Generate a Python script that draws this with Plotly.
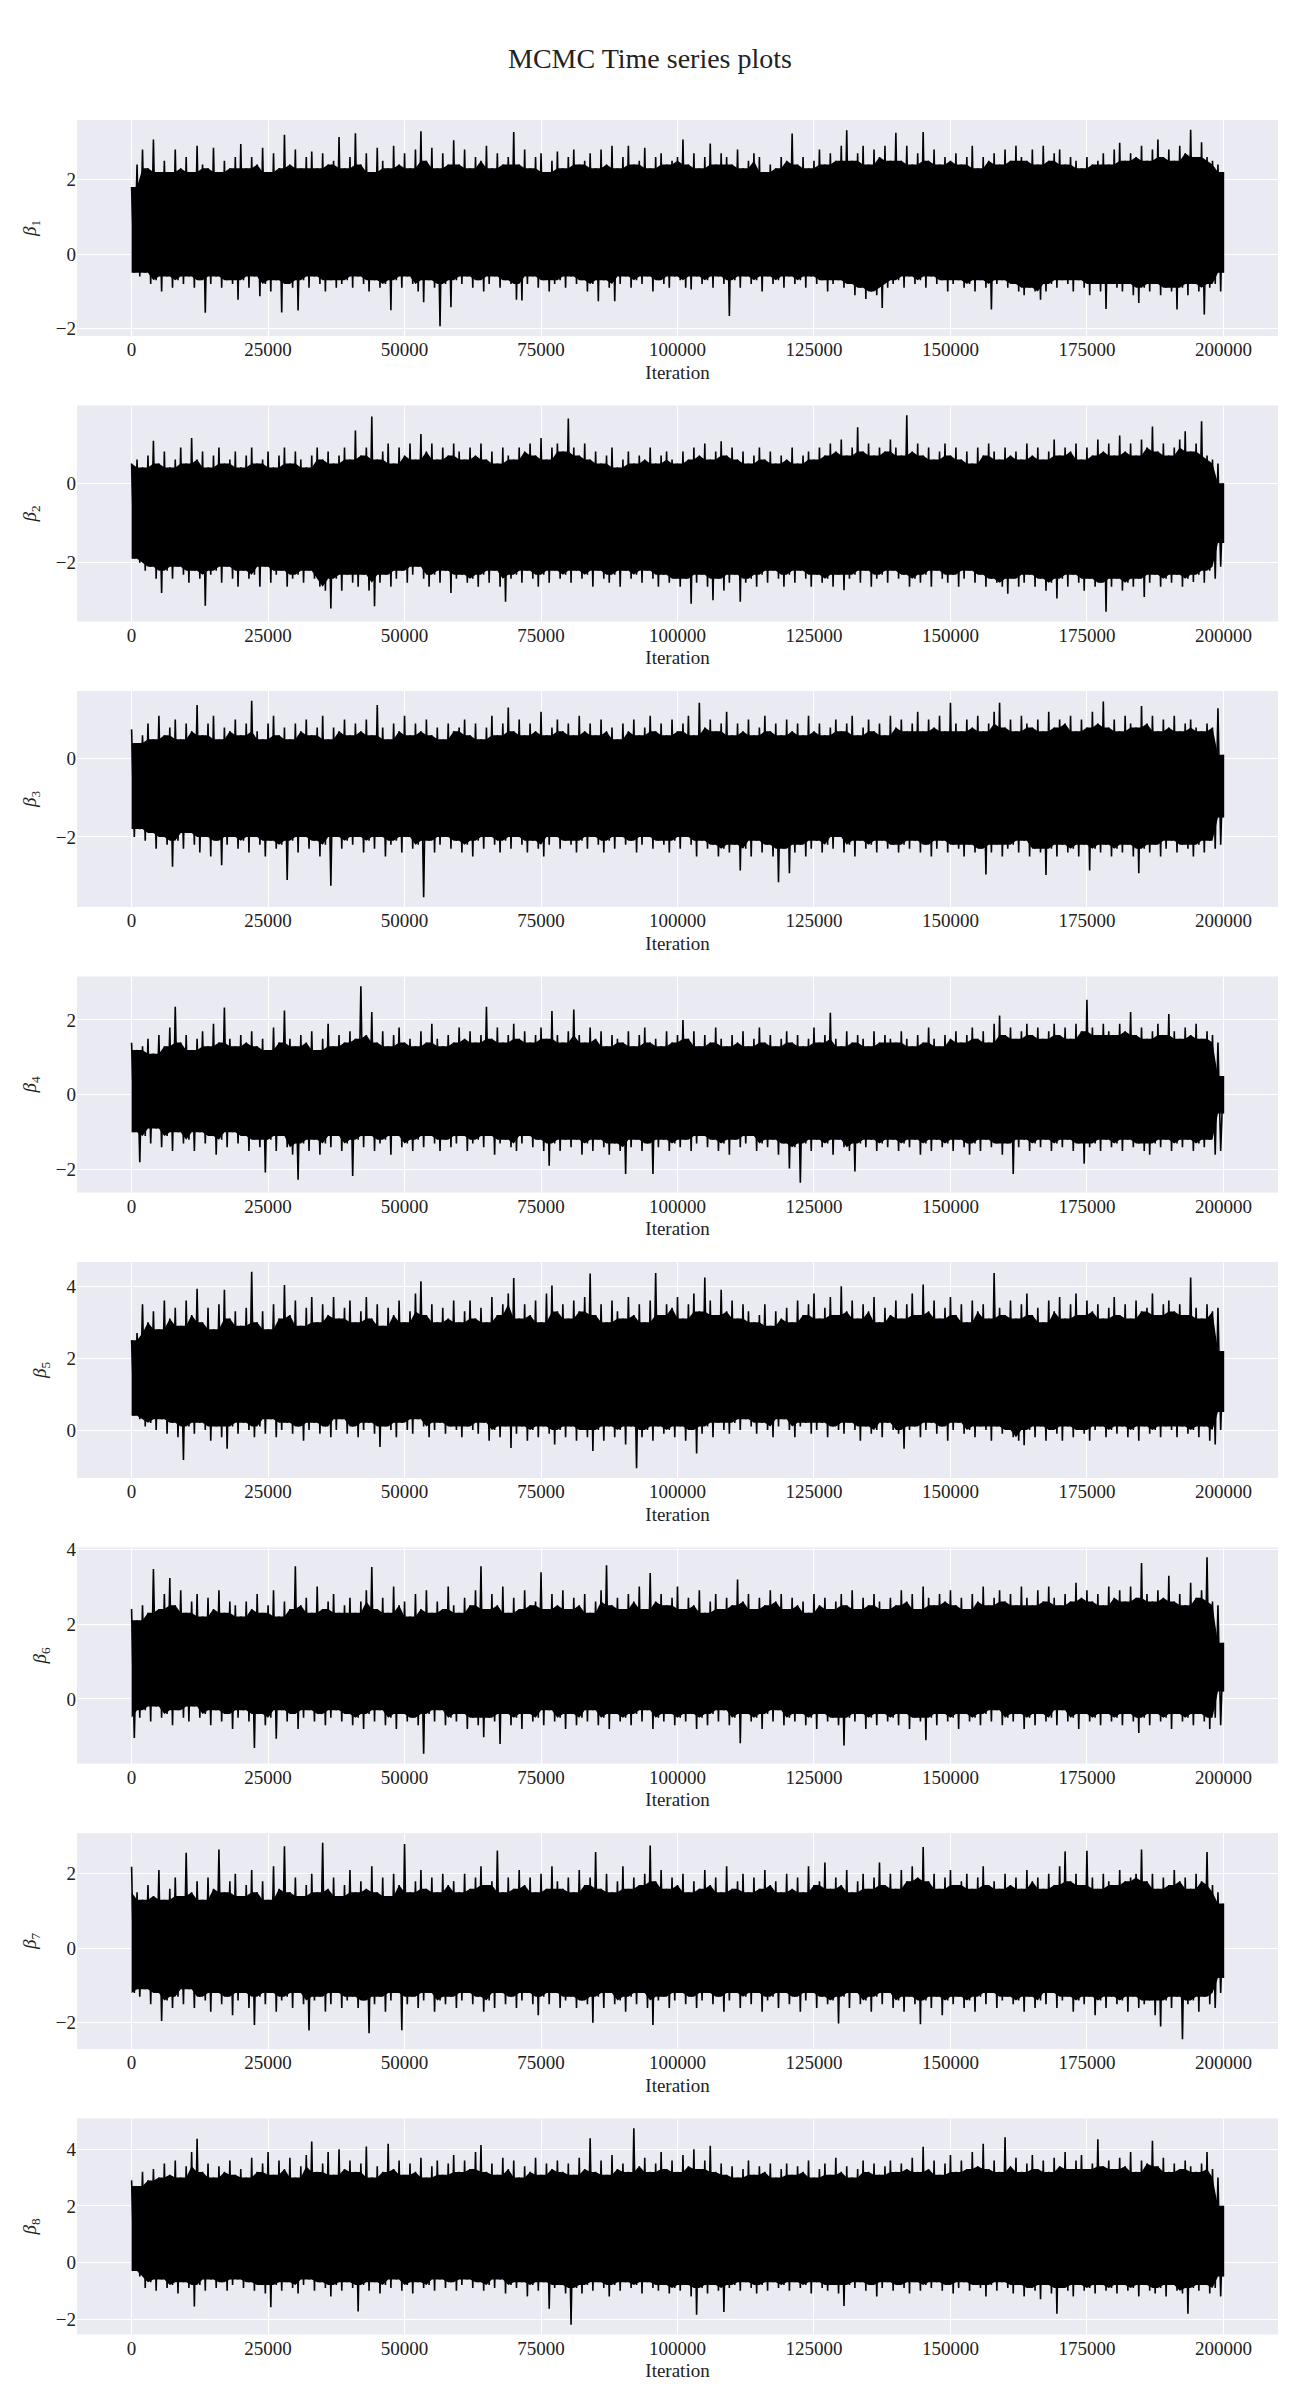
import numpy as np
import plotly.graph_objects as go

# Trace envelopes (column max / column min) read every 1000 iterations, 0..200000
iterations_max = 200000

beta1_upper = [1.8, 2.4, 2.8, 2.3, 3.07, 2.2, 2.5, 2.2, 2.8, 2.3, 2.6, 2.2, 2.9, 2.4, 2.3, 2.85, 2.2, 2.5, 2.3, 2.6,
               2.95, 2.3, 2.6, 2.4, 2.85, 2.2, 2.7, 2.3, 3.2, 2.4, 2.8, 2.3, 2.6, 2.75, 2.3, 2.7, 2.4, 2.5, 3.14, 2.3,
               2.6, 3.24, 2.4, 2.7, 2.2, 2.85, 2.5, 2.3, 2.9, 2.4, 2.7, 2.3, 2.8, 3.29, 2.5, 2.85, 2.3, 2.7, 2.4, 3.05,
               2.4, 2.8, 2.3, 2.6, 2.5, 2.9, 2.3, 2.7, 2.4, 2.6, 3.27, 2.4, 2.8, 2.3, 2.6, 2.7, 2.2, 2.5, 2.75, 2.3,
               2.6, 2.8, 2.4, 2.5, 2.7, 2.3, 2.8, 2.4, 2.9, 2.3, 2.6, 2.9, 2.4, 2.5, 2.85, 2.3, 2.6, 2.7, 2.4, 2.5,
               2.6, 3.07, 2.4, 2.7, 2.3, 2.6, 2.96, 2.4, 2.7, 2.6, 2.4, 2.8, 2.3, 2.5, 2.7, 2.6, 2.2, 2.4, 2.3, 2.6,
               2.5, 3.23, 2.4, 2.6, 2.3, 2.5, 2.8, 2.4, 2.7, 2.5, 2.9, 3.32, 2.5, 2.7, 2.9, 2.4, 2.8, 2.6, 2.9, 2.5,
               3.25, 2.5, 2.9, 2.4, 2.7, 3.27, 2.5, 2.8, 2.4, 2.6, 2.5, 2.7, 2.4, 2.6, 2.9, 2.3, 2.6, 2.5, 2.7, 2.4,
               2.8, 2.5, 2.9, 2.6, 2.5, 2.8, 2.4, 2.9, 2.5, 2.7, 2.8, 2.4, 2.6, 2.5, 2.3, 2.6, 2.4, 2.5, 2.7, 2.4,
               2.8, 2.98, 2.5, 2.7, 2.6, 2.9, 2.5, 2.8, 3.07, 2.6, 2.8, 2.5, 2.9, 2.7, 3.33, 2.6, 3.0, 2.6, 2.5, 2.4,
               2.2]
beta1_lower = [-0.5, -0.6, -0.5, -0.8, -0.7, -1.0, -0.6, -0.9, -0.7, -0.8, -0.6, -0.9, -0.7, -1.57, -0.8, -0.6, -0.9, -0.7, -0.8, -1.22,
               -0.7, -0.9, -0.6, -1.13, -0.8, -1.0, -0.7, -1.56, -0.8, -0.9, -1.51, -0.7, -0.9, -0.6, -0.8, -1.0, -0.7, -0.9, -0.8, -0.7,
               -0.9, -0.6, -0.8, -1.0, -0.7, -0.9, -0.8, -1.5, -0.7, -0.9, -0.6, -0.8, -1.0, -1.29, -0.7, -0.9, -1.93, -0.8, -1.42, -0.7,
               -0.8, -0.6, -0.9, -0.7, -1.0, -0.8, -0.6, -0.9, -0.7, -0.8, -1.22, -1.24, -0.8, -0.6, -0.9, -0.7, -1.0, -0.8, -0.7, -0.9,
               -0.6, -0.8, -0.7, -1.0, -0.8, -1.26, -0.7, -0.9, -1.26, -0.8, -0.6, -0.9, -0.7, -0.8, -0.6, -1.0, -0.7, -0.8, -0.9, -0.6,
               -0.7, -0.9, -0.95, -0.6, -0.8, -0.7, -0.9, -0.6, -0.8, -1.66, -0.7, -0.9, -0.6, -0.8, -0.7, -1.0, -0.6, -0.8, -0.7, -0.9,
               -0.6, -0.8, -0.7, -0.9, -0.6, -0.8, -0.7, -1.0, -0.8, -0.7, -0.9, -0.8, -1.1, -0.9, -1.2, -1.0, -1.1, -1.44, -0.9, -0.8,
               -0.7, -0.9, -0.6, -0.8, -0.7, -0.9, -0.6, -0.8, -0.7, -1.0, -0.8, -0.7, -0.9, -0.8, -1.0, -0.7, -0.9, -1.48, -0.8, -0.7,
               -0.9, -0.8, -1.0, -1.1, -0.9, -1.0, -1.22, -1.0, -0.8, -0.9, -0.7, -0.8, -1.0, -0.7, -0.9, -1.1, -0.8, -1.0, -1.47, -0.8,
               -0.9, -1.0, -0.8, -1.1, -1.31, -0.9, -1.0, -0.8, -1.1, -0.9, -1.0, -1.48, -0.9, -1.1, -0.8, -1.0, -1.62, -0.9, -0.8, -1.0,
               -0.5]

beta2_upper = [0.5, 0.6, 0.4, 0.7, 1.07, 0.5, 0.8, 0.4, 0.6, 0.9, 0.5, 1.14, 0.6, 0.8, 0.4, 0.7, 0.9, 0.5, 0.6, 0.8,
               0.4, 0.7, 0.9, 0.5, 0.6, 0.8, 0.4, 0.7, 0.9, 0.5, 0.8, 0.6, 0.4, 0.7, 0.9, 0.6, 0.8, 0.5, 0.7, 0.9,
               0.6, 1.33, 0.7, 0.9, 1.68, 0.6, 0.8, 1.0, 0.5, 0.9, 0.7, 1.0, 0.6, 1.24, 0.8, 1.0, 0.6, 0.9, 0.7, 1.0,
               0.8, 0.6, 0.9, 0.7, 1.0, 0.6, 0.8, 0.5, 0.9, 0.7, 0.6, 0.9, 0.8, 1.0, 0.7, 1.14, 0.6, 0.9, 1.0, 0.8,
               1.63, 0.9, 0.7, 1.0, 0.6, 0.8, 0.5, 0.7, 0.9, 0.4, 0.6, 0.8, 0.5, 0.7, 0.6, 0.9, 0.5, 0.7, 0.8, 0.6,
               0.5, 0.8, 0.6, 0.9, 0.7, 1.0, 0.6, 0.8, 1.06, 0.7, 0.9, 0.6, 0.8, 0.5, 0.7, 0.9, 0.6, 0.8, 0.5, 0.7,
               0.6, 0.9, 0.5, 0.7, 0.8, 0.6, 0.9, 0.7, 1.0, 0.8, 1.1, 0.7, 0.9, 1.41, 0.8, 1.0, 0.7, 0.9, 0.8, 1.1,
               0.9, 0.7, 1.71, 0.8, 1.0, 0.7, 0.9, 0.6, 0.8, 1.0, 0.7, 0.9, 0.6, 0.8, 0.5, 0.9, 0.7, 1.0, 0.8, 0.6,
               0.9, 0.7, 0.8, 0.6, 1.0, 0.7, 0.9, 0.6, 0.8, 1.1, 0.7, 0.9, 0.8, 1.0, 0.6, 0.9, 0.7, 1.1, 0.8, 1.0,
               0.7, 1.2, 0.8, 1.0, 0.7, 1.1, 0.9, 1.43, 0.8, 1.0, 0.7, 0.9, 1.1, 1.31, 0.8, 1.0, 1.56, 0.7, 0.6, 0.5,
               0.0]
beta2_lower = [-1.9, -2.0, -2.2, -2.1, -2.4, -2.76, -2.2, -2.4, -2.1, -2.3, -2.5, -2.2, -2.4, -3.08, -2.3, -2.2, -2.5, -2.1, -2.4, -2.6,
               -2.2, -2.4, -2.3, -2.6, -2.1, -2.5, -2.3, -2.2, -2.6, -2.4, -2.3, -2.5, -2.2, -2.4, -2.6, -2.7, -3.15, -2.4, -2.7, -2.3,
               -2.5, -2.6, -2.3, -2.7, -3.09, -2.5, -2.3, -2.6, -2.4, -2.2, -2.5, -2.3, -2.1, -2.4, -2.6, -2.3, -2.5, -2.2, -2.76, -2.4,
               -2.3, -2.5, -2.4, -2.6, -2.3, -2.5, -2.2, -2.6, -2.98, -2.4, -2.3, -2.5, -2.2, -2.4, -2.6, -2.3, -2.5, -2.2, -2.4, -2.3,
               -2.5, -2.2, -2.4, -2.3, -2.6, -2.2, -2.4, -2.5, -2.3, -2.6, -2.2, -2.4, -2.3, -2.5, -2.2, -2.4, -2.6, -2.3, -2.5, -2.4,
               -2.6, -2.4, -3.03, -2.5, -2.3, -2.6, -2.94, -2.4, -2.7, -2.5, -2.3, -2.98, -2.5, -2.4, -2.6, -2.3, -2.5, -2.2, -2.4, -2.6,
               -2.3, -2.5, -2.2, -2.4, -2.6, -2.3, -2.5, -2.4, -2.6, -2.3, -2.69, -2.4, -2.3, -2.5, -2.2, -2.6, -2.4, -2.3, -2.5, -2.2,
               -2.4, -2.3, -2.6, -2.4, -2.5, -2.3, -2.6, -2.2, -2.4, -2.5, -2.3, -2.6, -2.4, -2.2, -2.5, -2.3, -2.6, -2.4, -2.5, -2.6,
               -2.78, -2.4, -2.6, -2.5, -2.3, -2.6, -2.4, -2.7, -2.5, -2.9, -2.4, -2.6, -2.3, -2.5, -2.7, -2.4, -2.6, -2.5, -3.23, -2.6,
               -2.4, -2.7, -2.5, -2.6, -2.4, -2.86, -2.5, -2.3, -2.6, -2.4, -2.5, -2.3, -2.6, -2.4, -2.48, -2.3, -2.5, -2.2, -2.4, -2.1,
               -1.5]

beta3_upper = [0.75, 0.4, 0.6, 0.9, 0.5, 1.1, 0.6, 0.8, 1.0, 0.5, 0.9, 0.7, 1.37, 0.6, 0.9, 1.1, 0.5, 0.8, 0.7, 1.0,
               0.6, 0.9, 1.48, 0.7, 0.5, 0.9, 1.1, 0.6, 0.8, 0.5, 0.9, 0.7, 1.0, 0.6, 0.8, 1.1, 0.5, 0.8, 0.7, 1.0,
               0.6, 0.9, 0.7, 1.0, 0.6, 1.37, 0.8, 0.5, 0.9, 0.7, 1.1, 0.6, 0.9, 0.7, 1.0, 0.6, 0.8, 0.5, 0.9, 0.7,
               0.8, 1.0, 0.6, 0.9, 0.5, 0.8, 1.1, 0.6, 0.9, 1.31, 0.7, 1.0, 0.6, 0.9, 0.7, 1.2, 0.6, 0.8, 1.0, 0.7,
               0.9, 0.6, 1.1, 0.7, 0.9, 0.6, 1.0, 0.7, 0.8, 0.5, 0.9, 0.7, 1.0, 0.6, 0.8, 1.1, 0.7, 0.9, 0.6, 1.0,
               0.7, 0.9, 1.1, 0.6, 1.43, 0.8, 1.0, 0.7, 0.9, 1.2, 0.6, 0.9, 0.7, 1.0, 0.6, 0.8, 1.1, 0.7, 0.9, 0.6,
               1.0, 0.7, 0.9, 0.6, 1.1, 0.7, 0.9, 0.6, 0.8, 1.0, 0.7, 0.9, 1.1, 0.6, 0.8, 1.0, 0.7, 0.9, 0.6, 1.1,
               0.8, 1.0, 0.7, 0.9, 1.2, 0.7, 1.0, 0.8, 1.1, 0.7, 1.43, 0.9, 0.7, 1.0, 0.8, 1.1, 0.7, 0.9, 1.2, 1.43,
               0.8, 1.0, 0.7, 1.1, 0.9, 0.8, 1.0, 0.7, 1.2, 0.8, 1.0, 0.9, 1.1, 0.7, 1.0, 0.8, 1.2, 0.9, 1.46, 0.8,
               1.0, 0.7, 1.1, 0.9, 0.8, 1.35, 0.9, 1.1, 0.7, 1.0, 0.8, 1.1, 0.7, 0.9, 1.0, 0.8, 0.7, 0.9, 0.8, 1.29,
               0.1]
beta3_lower = [-2.0, -1.8, -2.1, -1.9, -2.3, -2.0, -2.2, -2.76, -2.1, -2.3, -1.9, -2.2, -2.4, -2.0, -2.5, -2.1, -2.72, -2.2, -2.0, -2.3,
               -2.1, -2.4, -2.0, -2.2, -2.5, -2.1, -2.3, -2.2, -3.1, -2.1, -2.4, -2.0, -2.3, -2.1, -2.5, -2.2, -3.25, -2.0, -2.3, -2.1,
               -2.2, -2.0, -2.4, -2.1, -2.3, -2.0, -2.5, -2.2, -2.1, -2.4, -2.0, -2.3, -2.2, -3.54, -2.1, -2.4, -2.2, -2.0, -2.3, -2.1,
               -2.4, -2.2, -2.5, -2.1, -2.3, -2.0, -2.2, -2.4, -2.1, -2.3, -2.0, -2.2, -2.4, -2.1, -2.3, -2.5, -2.2, -2.0, -2.3, -2.1,
               -2.2, -2.4, -2.1, -2.3, -2.0, -2.2, -2.4, -2.1, -2.3, -2.0, -2.2, -2.1, -2.4, -2.2, -2.0, -2.3, -2.1, -2.2, -2.4, -2.1,
               -2.3, -2.0, -2.2, -2.5, -2.1, -2.3, -2.2, -2.5, -2.3, -2.4, -2.2, -2.86, -2.3, -2.5, -2.1, -2.4, -2.2, -2.5, -3.16, -2.3,
               -2.93, -2.4, -2.2, -2.5, -2.3, -2.1, -2.4, -2.2, -2.3, -2.0, -2.4, -2.2, -2.5, -2.1, -2.3, -2.2, -2.4, -2.1, -2.3, -2.2,
               -2.4, -2.2, -2.3, -2.1, -2.4, -2.2, -2.5, -2.3, -2.1, -2.4, -2.2, -2.3, -2.5, -2.2, -2.4, -2.3, -2.96, -2.4, -2.2, -2.5,
               -2.3, -2.2, -2.4, -2.1, -2.5, -2.3, -2.4, -2.97, -2.3, -2.5, -2.2, -2.4, -2.3, -2.5, -2.2, -2.86, -2.3, -2.4, -2.2, -2.5,
               -2.3, -2.4, -2.2, -2.5, -2.93, -2.3, -2.4, -2.2, -2.5, -2.3, -2.1, -2.4, -2.2, -2.3, -2.5, -2.2, -2.4, -2.1, -2.3, -2.2,
               -1.5]

beta4_upper = [1.39, 1.2, 1.3, 1.5, 1.1, 1.6, 1.3, 1.8, 2.35, 1.4, 1.6, 1.2, 1.5, 1.7, 1.3, 1.9, 1.4, 2.33, 1.5, 1.3,
               1.6, 1.4, 1.7, 1.3, 1.5, 1.2, 1.8, 1.4, 2.25, 1.5, 1.3, 1.6, 1.4, 1.7, 1.2, 1.5, 1.9, 1.3, 1.6, 1.4,
               1.7, 1.5, 2.9, 1.6, 2.21, 1.4, 1.7, 1.3, 1.6, 1.8, 1.4, 1.5, 1.3, 1.7, 1.4, 1.9, 1.5, 1.3, 1.6, 1.4,
               1.8, 1.5, 1.7, 1.4, 1.6, 2.35, 1.5, 1.8, 1.4, 1.6, 1.9, 1.5, 1.7, 1.4, 1.6, 1.8, 1.5, 2.24, 1.6, 1.4,
               1.7, 2.28, 1.6, 1.4, 1.8, 1.5, 1.7, 1.3, 1.6, 1.5, 1.4, 1.7, 1.3, 1.6, 1.8, 1.4, 1.5, 1.3, 1.7, 1.4,
               1.6, 2.0, 1.5, 1.7, 1.3, 1.6, 1.4, 1.8, 1.5, 1.3, 1.6, 1.4, 1.7, 1.3, 1.5, 1.8, 1.4, 1.6, 1.3, 1.5,
               1.7, 1.4, 1.6, 1.3, 1.5, 1.8, 1.4, 1.6, 2.19, 1.5, 1.3, 1.7, 1.4, 1.6, 1.5, 1.3, 1.7, 1.4, 1.6, 1.5,
               1.4, 1.7, 1.5, 1.3, 1.6, 1.4, 1.8, 1.5, 1.3, 1.6, 1.5, 1.7, 1.4, 1.6, 1.8, 1.5, 1.7, 1.4, 1.9, 2.12,
               1.6, 1.8, 1.5, 1.7, 1.9, 1.6, 1.8, 1.5, 1.7, 1.9, 1.6, 1.8, 1.5, 1.9, 1.7, 2.54, 1.8, 1.6, 1.9, 1.7,
               1.6, 1.9, 1.7, 2.21, 1.6, 1.8, 1.5, 1.7, 1.9, 1.6, 2.16, 1.7, 1.5, 1.8, 1.6, 1.9, 1.5, 1.7, 1.6, 1.4,
               0.5]
beta4_lower = [-1.0, -1.8, -1.1, -1.3, -0.9, -1.4, -1.1, -1.5, -1.0, -1.3, -1.2, -1.5, -1.0, -1.3, -1.1, -1.6, -1.2, -1.4, -1.0, -1.3,
               -1.1, -1.5, -1.2, -1.4, -2.08, -1.2, -1.5, -1.1, -1.4, -1.6, -2.27, -1.3, -1.5, -1.2, -1.6, -1.3, -1.4, -1.1, -1.5, -1.3,
               -2.17, -1.2, -1.4, -1.1, -1.5, -1.3, -1.2, -1.6, -1.1, -1.4, -1.3, -1.5, -1.2, -1.4, -1.1, -1.3, -1.5, -1.2, -1.4, -1.3,
               -1.1, -1.5, -1.3, -1.2, -1.4, -1.1, -1.6, -1.3, -1.2, -1.4, -1.5, -1.3, -1.1, -1.4, -1.2, -1.5, -1.9, -1.3, -1.5, -1.2,
               -1.4, -1.2, -1.6, -1.3, -1.5, -1.2, -1.4, -1.6, -1.3, -1.5, -2.12, -1.4, -1.2, -1.5, -1.3, -2.12, -1.4, -1.2, -1.5, -1.3,
               -1.4, -1.2, -1.5, -1.3, -1.1, -1.4, -1.2, -1.5, -1.3, -1.6, -1.2, -1.4, -1.3, -1.1, -1.5, -1.3, -1.4, -1.2, -1.6, -1.3,
               -1.97, -1.4, -2.35, -1.3, -1.5, -1.2, -1.4, -1.3, -1.6, -1.2, -1.4, -1.5, -2.05, -1.3, -1.4, -1.2, -1.5, -1.3, -1.4, -1.2,
               -1.5, -1.3, -1.4, -1.2, -1.6, -1.3, -1.5, -1.2, -1.4, -1.3, -1.5, -1.2, -1.4, -1.6, -1.3, -1.5, -1.2, -1.4, -1.3, -1.6,
               -1.3, -2.12, -1.4, -1.2, -1.5, -1.3, -1.4, -1.2, -1.5, -1.3, -1.4, -1.2, -1.5, -1.3, -1.84, -1.4, -1.3, -1.5, -1.2, -1.4,
               -1.3, -1.5, -1.2, -1.4, -1.3, -1.5, -1.6, -1.3, -1.4, -1.2, -1.5, -1.3, -1.4, -1.2, -1.5, -1.3, -1.4, -1.2, -1.6, -1.5,
               -0.5]

beta5_upper = [2.5, 2.7, 3.5, 3.0, 3.3, 2.8, 3.6, 3.1, 3.4, 2.9, 3.6, 3.2, 3.93, 3.0, 3.4, 2.8, 3.5, 3.9, 3.1, 3.3,
               2.9, 3.4, 4.4, 3.0, 3.3, 2.8, 3.5, 3.1, 4.03, 3.2, 3.6, 2.9, 3.4, 3.7, 3.0, 3.5, 3.2, 3.7, 3.1, 3.4,
               3.6, 3.0, 3.3, 3.7, 3.1, 3.5, 2.9, 3.4, 3.2, 3.6, 3.0, 3.3, 3.8, 4.14, 3.2, 3.5, 3.0, 3.4, 3.1, 3.6,
               3.0, 3.3, 3.6, 3.1, 3.4, 3.0, 3.7, 3.2, 3.5, 3.8, 4.23, 3.1, 3.5, 3.2, 3.6, 3.0, 3.8, 4.02, 3.3, 3.5,
               3.1, 3.6, 3.3, 3.7, 4.35, 3.2, 3.5, 3.0, 3.6, 3.3, 3.1, 3.7, 3.2, 3.5, 3.0, 3.6, 4.37, 3.2, 3.5, 3.4,
               3.7, 3.1, 3.5, 3.8, 3.3, 4.24, 3.6, 3.2, 3.9, 3.3, 3.6, 3.1, 3.5, 3.3, 3.0, 3.2, 3.5, 2.9, 3.3, 3.1,
               3.4, 3.0, 3.6, 3.2, 3.5, 3.8, 3.1, 3.4, 3.7, 3.2, 4.0, 3.3, 3.6, 3.1, 3.5, 3.3, 3.7, 3.0, 3.4, 3.2,
               3.6, 3.1, 3.5, 3.8, 3.2, 4.05, 3.3, 3.6, 3.1, 3.4, 3.7, 3.2, 3.5, 3.0, 3.6, 3.3, 3.5, 3.1, 4.37, 3.4,
               3.2, 3.6, 3.1, 3.5, 3.8, 3.2, 3.4, 3.0, 3.6, 3.3, 3.7, 3.1, 3.5, 3.8, 3.2, 3.6, 3.3, 3.5, 3.1, 3.4,
               3.7, 3.2, 3.5, 3.1, 3.6, 3.3, 3.4, 3.8, 3.2, 3.5, 3.6, 3.3, 3.5, 3.2, 4.24, 3.4, 3.1, 3.5, 3.3, 3.4,
               2.2]
beta5_lower = [0.4, 0.3, 0.1, 0.2, 0.0, 0.3, -0.1, 0.2, -0.2, -0.83, 0.1, -0.1, 0.2, 0.0, -0.3, 0.1, -0.2, -0.52, 0.1, -0.1,
               0.2, 0.0, -0.2, 0.1, -0.1, 0.3, -0.2, 0.0, 0.2, -0.1, 0.1, -0.3, 0.0, 0.2, -0.1, 0.1, -0.2, 0.0, 0.3, -0.1,
               0.1, -0.2, 0.0, 0.2, -0.1, -0.47, 0.1, 0.0, -0.2, 0.2, 0.0, -0.1, 0.3, 0.1, -0.2, 0.0, 0.2, -0.1, 0.1, 0.0,
               -0.2, 0.1, 0.0, -0.1, 0.2, -0.3, 0.0, -0.2, 0.1, -0.5, -0.1, 0.1, -0.3, 0.0, -0.2, 0.1, -0.1, -0.4, 0.0, -0.2,
               0.1, -0.3, 0.0, -0.2, -0.58, 0.0, -0.3, 0.1, -0.2, 0.0, -0.4, 0.1, -1.06, -0.2, 0.0, -0.3, 0.1, -0.1, 0.0, -0.2,
               0.1, -0.3, 0.0, -0.65, -0.1, 0.1, -0.2, 0.2, 0.0, -0.1, 0.2, 0.0, 0.3, 0.1, -0.1, 0.2, 0.0, -0.2, 0.1, 0.3,
               0.0, -0.2, 0.1, 0.2, -0.1, 0.0, 0.2, -0.2, 0.1, 0.0, -0.1, 0.2, 0.0, -0.3, 0.1, -0.1, 0.0, -0.2, 0.2, 0.0,
               -0.1, -0.52, 0.0, 0.1, -0.2, 0.0, 0.2, -0.1, 0.1, -0.3, 0.0, 0.2, -0.1, 0.0, -0.2, 0.1, 0.0, -0.3, 0.1, -0.1,
               0.0, -0.2, -0.3, -0.42, 0.0, -0.2, 0.1, -0.3, 0.0, -0.1, -0.3, 0.1, -0.2, 0.0, -0.1, -0.3, 0.0, 0.1, -0.2, 0.0,
               -0.1, 0.1, -0.2, 0.0, -0.3, 0.1, -0.1, 0.0, -0.2, 0.1, 0.0, -0.2, 0.1, -0.1, 0.0, -0.2, 0.1, -0.3, -0.4, 0.0,
               0.5]

beta6_upper = [2.4, 2.1, 2.5, 2.3, 3.47, 2.4, 2.8, 3.23, 2.5, 2.9, 2.3, 2.6, 2.8, 2.2, 2.7, 2.4, 2.9, 2.3, 2.6, 2.5,
               2.2, 2.6, 2.4, 2.8, 2.3, 2.5, 2.9, 2.2, 2.6, 2.4, 3.54, 2.5, 2.7, 2.3, 3.0, 2.4, 2.6, 2.8, 2.3, 2.5,
               2.7, 2.3, 2.6, 2.9, 3.52, 2.4, 2.7, 2.3, 3.0, 2.5, 2.6, 2.2, 2.8, 2.4, 2.9, 2.3, 2.6, 2.4, 3.0, 2.5,
               2.3, 2.7, 2.5, 2.9, 3.54, 2.4, 2.8, 2.5, 3.0, 2.3, 2.7, 2.4, 2.9, 2.5, 2.6, 3.38, 2.4, 2.8, 2.5, 2.9,
               2.4, 2.7, 2.5, 2.8, 2.3, 2.6, 2.9, 3.57, 2.5, 2.7, 2.4, 2.8, 2.6, 3.0, 2.4, 3.36, 2.6, 2.8, 2.5, 2.7,
               3.0, 2.4, 2.7, 2.5, 2.9, 2.3, 2.6, 2.8, 2.4, 2.7, 2.5, 3.19, 2.6, 2.8, 2.4, 2.7, 2.5, 2.9, 2.6, 2.8,
               2.4, 2.7, 2.5, 2.6, 2.3, 2.8, 2.5, 2.7, 2.4, 2.6, 2.8, 2.5, 2.9, 2.4, 2.7, 2.5, 2.8, 2.6, 2.4, 2.7,
               2.5, 2.9, 2.6, 2.8, 2.4, 3.0, 2.7, 2.5, 2.8, 2.6, 2.9, 2.5, 2.7, 2.4, 2.8, 2.6, 3.0, 2.5, 2.7, 2.9,
               2.6, 2.8, 2.5, 3.0, 2.7, 2.5, 2.9, 2.6, 3.0, 2.7, 2.5, 2.8, 2.6, 3.1, 2.7, 2.9, 2.6, 2.8, 2.5, 3.0,
               2.7, 2.9, 2.6, 3.0, 2.7, 3.63, 2.8, 2.6, 2.9, 2.7, 3.29, 2.6, 2.8, 2.5, 3.1, 2.7, 2.9, 3.78, 2.6, 2.5,
               1.5]
beta6_lower = [-1.04, -0.5, -0.3, -0.6, -0.2, -0.5, -0.4, -0.7, -0.3, -0.5, -0.6, -0.2, -0.5, -0.4, -0.7, -0.3, -0.6, -0.4, -0.8, -0.5,
               -0.3, -0.6, -1.31, -0.4, -0.7, -0.5, -1.06, -0.3, -0.6, -0.4, -0.8, -0.5, -0.3, -0.6, -0.4, -0.7, -0.5, -0.3, -0.6, -0.4,
               -0.7, -0.5, -0.8, -0.4, -0.6, -0.3, -0.7, -0.5, -0.8, -0.4, -0.6, -0.5, -0.7, -1.46, -0.4, -0.6, -0.3, -0.7, -0.5, -0.6,
               -0.4, -0.8, -0.5, -0.7, -1.02, -0.5, -0.6, -1.2, -0.4, -0.7, -0.5, -0.8, -0.4, -0.6, -0.5, -0.7, -0.3, -0.6, -0.5, -0.8,
               -0.4, -0.7, -0.5, -0.6, -0.3, -0.7, -0.5, -0.8, -0.4, -0.6, -0.5, -0.7, -0.4, -0.6, -0.3, -0.8, -0.5, -0.6, -0.4, -0.7,
               -0.5, -0.6, -0.4, -0.8, -0.5, -0.7, -0.4, -0.6, -0.3, -0.7, -0.5, -1.18, -0.4, -0.6, -0.5, -0.8, -0.4, -0.6, -0.3, -0.7,
               -0.5, -0.6, -0.4, -0.7, -0.5, -0.8, -0.4, -0.6, -0.5, -0.7, -1.24, -0.5, -0.6, -0.4, -0.8, -0.5, -0.7, -0.4, -0.6, -0.5,
               -0.7, -0.4, -0.8, -0.5, -0.6, -1.1, -0.5, -0.7, -0.4, -0.6, -0.5, -0.8, -0.4, -0.6, -0.5, -0.7, -0.4, -0.6, -0.3, -0.7,
               -0.5, -0.6, -0.4, -0.8, -0.5, -0.7, -0.4, -0.6, -0.5, -0.7, -0.3, -0.6, -0.5, -0.8, -0.4, -0.6, -0.5, -0.7, -0.4, -0.6,
               -0.5, -0.7, -0.4, -0.6, -0.91, -0.5, -0.7, -0.4, -0.6, -0.5, -0.8, -0.4, -0.6, -0.5, -0.7, -0.4, -0.6, -0.8, -0.5, -0.7,
               0.2]

beta7_upper = [2.19, 1.5, 1.3, 1.7, 1.4, 2.1, 1.3, 1.6, 1.9, 1.4, 2.56, 1.5, 1.8, 1.3, 1.9, 1.6, 2.65, 1.5, 1.8, 2.0,
               1.4, 1.7, 2.1, 1.5, 1.8, 1.3, 2.2, 1.6, 2.74, 1.5, 1.9, 1.4, 1.7, 2.0, 1.5, 2.83, 1.6, 1.9, 1.4, 1.7,
               2.1, 1.5, 1.8, 1.6, 2.2, 1.5, 1.9, 1.4, 2.0, 1.7, 2.8, 1.5, 1.8, 2.1, 1.6, 1.9, 1.5, 2.0, 1.7, 1.8,
               1.5, 2.0, 1.6, 1.9, 2.2, 1.7, 1.8, 2.62, 1.5, 1.9, 1.6, 2.1, 1.7, 1.9, 1.5, 2.0, 1.6, 2.2, 1.8, 1.6,
               1.9, 1.5, 2.1, 1.7, 1.9, 2.58, 1.6, 2.0, 1.5, 1.8, 2.2, 1.6, 1.9, 1.7, 2.0, 2.76, 1.8, 2.1, 1.6, 1.9,
               1.7, 2.0, 1.5, 1.8, 1.6, 2.1, 1.7, 1.9, 1.5, 2.2, 1.6, 1.8, 2.0, 1.5, 1.9, 1.6, 2.1, 1.7, 1.8, 1.5,
               2.0, 1.6, 1.9, 1.5, 2.2, 1.7, 1.8, 2.3, 1.6, 1.9, 1.7, 2.1, 1.5, 1.8, 2.0, 1.6, 1.9, 2.3, 1.7, 2.0,
               1.6, 2.1, 1.8, 2.2, 1.9, 2.72, 1.8, 2.0, 1.6, 1.9, 2.1, 1.7, 1.8, 2.0, 1.6, 1.9, 2.2, 1.7, 1.8, 1.6,
               2.0, 1.7, 1.9, 1.6, 2.1, 1.8, 1.9, 1.6, 2.0, 1.7, 2.2, 2.6, 1.8, 2.0, 1.7, 2.62, 1.9, 1.6, 2.0, 1.8,
               1.7, 2.1, 1.8, 1.9, 2.0, 2.65, 1.8, 2.0, 1.6, 1.9, 1.7, 2.1, 1.8, 1.9, 1.6, 2.0, 1.8, 2.58, 1.7, 1.5,
               1.2]
beta7_lower = [-1.2, -1.3, -1.1, -1.5, -1.2, -1.95, -1.4, -1.6, -1.3, -1.5, -1.1, -1.6, -1.3, -1.4, -1.7, -1.2, -1.5, -1.3, -1.8, -1.4,
               -1.2, -1.6, -2.06, -1.3, -1.5, -1.2, -1.7, -1.4, -1.3, -1.6, -1.2, -1.5, -2.21, -1.4, -1.3, -1.7, -1.5, -1.2, -1.6, -1.4,
               -1.3, -1.6, -1.4, -2.28, -1.5, -1.3, -1.7, -1.4, -1.2, -2.2, -1.5, -1.3, -1.6, -1.4, -1.2, -1.7, -1.4, -1.5, -1.3, -1.6,
               -1.4, -1.2, -1.5, -1.3, -1.7, -1.4, -1.6, -1.2, -1.5, -1.3, -1.6, -1.4, -1.2, -1.5, -1.8, -1.3, -1.5, -1.2, -1.6, -1.4,
               -1.3, -1.6, -1.4, -1.5, -2.0, -1.3, -1.6, -1.2, -1.5, -1.4, -1.7, -1.3, -1.5, -1.2, -1.6, -2.06, -1.4, -1.3, -1.6, -1.4,
               -1.2, -1.5, -1.3, -1.6, -1.4, -1.2, -1.5, -1.3, -1.7, -1.4, -1.2, -1.6, -1.3, -1.5, -1.2, -1.7, -1.4, -1.3, -1.6, -1.2,
               -1.5, -1.3, -1.7, -1.4, -1.2, -1.6, -1.3, -1.5, -1.4, -2.02, -1.3, -1.6, -1.2, -1.5, -1.4, -1.7, -1.3, -1.5, -1.2, -1.6,
               -1.4, -1.7, -1.3, -1.5, -2.04, -1.4, -1.6, -1.3, -1.8, -1.4, -1.5, -1.3, -1.6, -1.4, -1.7, -1.3, -1.5, -1.2, -1.6, -1.4,
               -1.3, -1.5, -1.4, -1.7, -1.3, -1.6, -1.4, -1.5, -1.2, -1.6, -1.4, -1.3, -1.7, -1.4, -1.5, -1.3, -1.8, -1.4, -1.6, -1.3,
               -1.5, -1.4, -1.7, -1.3, -1.6, -1.5, -1.4, -1.8, -2.1, -1.4, -1.6, -1.3, -2.44, -1.5, -1.4, -1.7, -1.3, -1.5, -1.6, -1.2,
               -0.8]

beta8_upper = [2.9, 2.7, 3.2, 2.9, 3.3, 3.0, 3.5, 3.1, 3.6, 3.0, 3.4, 3.9, 4.37, 3.2, 3.5, 3.0, 3.4, 3.2, 3.6, 3.1,
               3.3, 3.0, 3.7, 3.2, 3.5, 3.9, 3.1, 3.6, 3.3, 3.7, 3.0, 3.4, 3.8, 4.27, 3.2, 3.5, 3.9, 3.1, 4.0, 3.3,
               3.6, 3.2, 3.5, 4.1, 3.0, 3.4, 3.2, 4.19, 3.3, 3.6, 3.1, 3.5, 3.2, 3.7, 3.0, 3.4, 3.6, 3.1, 3.5, 3.8,
               3.2, 3.6, 3.3, 3.9, 4.15, 3.2, 3.5, 3.1, 3.7, 3.3, 3.6, 3.0, 3.4, 3.2, 3.7, 3.1, 3.5, 3.3, 3.6, 3.2,
               3.5, 3.1, 3.7, 3.3, 4.39, 3.2, 3.6, 3.1, 3.8, 3.3, 3.5, 3.2, 4.74, 3.4, 3.7, 3.2, 3.5, 3.9, 3.3, 3.6,
               3.2, 3.8, 3.4, 4.0, 3.3, 3.6, 4.12, 3.2, 3.5, 3.1, 3.4, 3.0, 3.3, 3.6, 3.1, 3.4, 3.2, 3.5, 3.0, 3.3,
               3.5, 3.1, 3.4, 3.2, 3.6, 3.0, 3.3, 3.5, 3.1, 3.7, 3.2, 3.4, 3.0, 3.3, 3.6, 3.2, 3.5, 3.1, 3.4, 3.6,
               3.2, 3.5, 3.3, 3.7, 3.2, 4.09, 3.3, 3.6, 3.1, 3.5, 3.8, 3.2, 3.6, 3.3, 3.9, 3.4, 4.19, 3.3, 3.6, 3.2,
               4.42, 3.4, 3.7, 3.2, 3.5, 3.8, 3.3, 3.6, 3.2, 3.7, 3.4, 3.9, 3.3, 3.6, 3.8, 3.3, 3.5, 4.35, 3.4, 3.6,
               3.3, 3.7, 3.4, 3.9, 3.2, 3.6, 3.5, 4.3, 3.4, 3.7, 3.2, 3.5, 3.3, 3.6, 3.4, 3.2, 3.5, 3.9, 3.3, 3.0,
               2.0]
beta8_lower = [-0.3, -0.5, -0.9, -0.7, -1.0, -0.6, -0.9, -0.8, -1.1, -0.7, -0.9, -1.56, -0.8, -1.0, -0.6, -0.9, -0.7, -1.0, -0.8, -0.6,
               -0.9, -0.7, -1.0, -0.8, -1.1, -1.58, -0.8, -1.0, -0.7, -0.9, -1.1, -0.8, -0.6, -1.0, -0.7, -0.9, -1.2, -0.8, -1.0, -0.7,
               -0.9, -1.73, -0.8, -1.0, -0.7, -1.1, -0.8, -0.9, -0.6, -1.0, -0.8, -1.1, -0.7, -0.9, -0.8, -1.0, -0.6, -0.9, -0.7, -1.0,
               -0.8, -0.6, -0.9, -0.7, -1.0, -0.8, -0.9, -0.6, -1.1, -0.8, -0.9, -0.7, -1.2, -0.8, -1.0, -0.7, -1.64, -0.9, -0.8, -1.1,
               -2.2, -0.9, -1.1, -0.8, -1.0, -0.7, -0.9, -1.2, -0.8, -1.0, -0.7, -0.9, -0.8, -1.1, -0.7, -0.9, -1.0, -0.8, -1.1, -0.9,
               -1.0, -0.8, -1.2, -1.85, -0.9, -1.1, -0.8, -1.0, -1.75, -0.9, -0.8, -1.0, -0.7, -0.9, -1.1, -0.8, -1.0, -0.7, -0.9, -0.8,
               -1.0, -0.7, -0.9, -0.8, -1.1, -0.7, -0.9, -1.0, -0.8, -1.1, -1.54, -0.8, -0.9, -0.7, -1.0, -0.8, -1.2, -0.9, -0.7, -1.0,
               -0.8, -0.9, -1.1, -0.7, -1.0, -0.8, -0.9, -0.7, -1.0, -0.8, -1.1, -0.9, -0.7, -1.0, -0.8, -0.9, -1.2, -0.8, -1.0, -0.7,
               -0.9, -1.1, -0.8, -1.2, -0.9, -1.0, -1.3, -0.8, -1.1, -1.81, -0.9, -1.0, -1.2, -0.8, -1.0, -0.9, -1.1, -0.8, -1.0, -0.9,
               -1.1, -0.8, -1.0, -0.9, -1.2, -0.8, -1.0, -1.1, -0.9, -1.2, -0.8, -1.0, -1.1, -1.81, -0.9, -1.0, -0.8, -1.1, -0.9, -1.2,
               -0.5]

panel_labels = ["<i>β</i><sub>1</sub>", "<i>β</i><sub>2</sub>", "<i>β</i><sub>3</sub>", "<i>β</i><sub>4</sub>",
                "<i>β</i><sub>5</sub>", "<i>β</i><sub>6</sub>", "<i>β</i><sub>7</sub>", "<i>β</i><sub>8</sub>"]
uppers = [beta1_upper, beta2_upper, beta3_upper, beta4_upper, beta5_upper, beta6_upper, beta7_upper, beta8_upper]
lowers = [beta1_lower, beta2_lower, beta3_lower, beta4_lower, beta5_lower, beta6_lower, beta7_lower, beta8_lower]
x_tick_vals = [0, 25000, 50000, 75000, 100000, 125000, 150000, 175000, 200000]
title_text = "MCMC Time series plots"
x_title = "Iteration"

W, H = 1300, 2400
FONT = "Liberation Serif"
BG = "#EAEAF2"
TXT = "#222222"


def rolling(a, win, fn):
    a = np.asarray(a, dtype=float)
    h = win // 2
    p = np.pad(a, h, mode="edge")
    return fn(np.stack([p[k:k + len(a)] for k in range(win)]), axis=0)


fig = go.Figure()
layout_axes = {}
for i, (up, lo, lab) in enumerate(zip(uppers, lowers, panel_labels)):
    n = i + 1
    up = np.asarray(up, dtype=float)
    lo = np.asarray(lo, dtype=float)
    xu = np.linspace(0, iterations_max, len(up))
    xl = np.linspace(0, iterations_max, len(lo))
    step = iterations_max / (len(lo) - 1)

    # solid core of the trace (inner envelope)
    core_up = rolling(up, 3, np.min)
    core_lo = rolling(lo, 3, np.max)
    fig.add_trace(go.Scatter(
        x=list(xu) + list(xl[::-1]), y=list(core_up) + list(core_lo[::-1]),
        mode="lines", fill="toself", fillcolor="black", line=dict(color="black", width=0),
        xaxis=f"x{n}", yaxis=f"y{n}", showlegend=False, hoverinfo="skip"))

    # the trace line sweeping between column maxima and minima
    xl_shift = np.minimum(xl + step / 2, iterations_max)
    zx = np.empty(len(up) + len(lo))
    zy = np.empty(len(up) + len(lo))
    zx[0::2], zx[1::2] = xu, xl_shift
    zy[0::2], zy[1::2] = up, lo
    fig.add_trace(go.Scatter(
        x=zx, y=zy, mode="lines", line=dict(color="black", width=1.6),
        xaxis=f"x{n}", yaxis=f"y{n}", showlegend=False, hoverinfo="skip"))

    top = 120 + i * 285.5
    bot = top + 216
    dmin, dmax = lo.min(), up.max()
    pad = 0.05 * (dmax - dmin)
    key = "" if n == 1 else str(n)
    layout_axes[f"xaxis{key}"] = dict(
        domain=[77 / W, 1278 / W], anchor=f"y{n}", automargin=False,
        range=[-10000, 210000], tickvals=x_tick_vals, tickformat="d",
        showgrid=True, gridcolor="white", gridwidth=1.3, zeroline=False, showline=False,
        ticks="", tickfont=dict(family=FONT, size=19, color=TXT),
        title=dict(text=x_title, font=dict(family=FONT, size=19, color=TXT), standoff=6),
    )
    layout_axes[f"yaxis{key}"] = dict(
        domain=[1 - bot / H, 1 - top / H], anchor=f"x{n}", automargin=False,
        range=[dmin - pad, dmax + pad], dtick=2, tick0=0,
        showgrid=True, gridcolor="white", gridwidth=1.3, zeroline=False, showline=False,
        ticks="", tickfont=dict(family=FONT, size=19, color=TXT),
        title=dict(text=lab, font=dict(family=FONT, size=19, color=TXT), standoff=14),
    )

fig.update_layout(
    width=W, height=H,
    margin=dict(l=0, r=0, t=0, b=0),
    paper_bgcolor="white", plot_bgcolor=BG,
    title=dict(text=title_text, x=0.5, xanchor="center", y=1 - 58 / H, yanchor="middle",
               font=dict(family=FONT, size=28, color=TXT)),
    **layout_axes,
)

fig.write_html("out.html")
